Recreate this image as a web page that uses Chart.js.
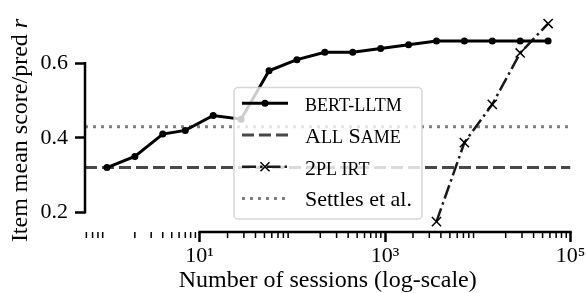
<!DOCTYPE html>
<html lang="en">
<head>
<meta charset="UTF-8">
<title>Item mean score vs. number of sessions</title>
<script src="https://cdnjs.cloudflare.com/ajax/libs/Chart.js/4.4.1/chart.umd.min.js"></script>
<style>
  html, body { margin: 0; padding: 0; background: #fff; }
  #wrap { width: 586px; height: 293px; }
</style>
</head>
<body>
<div id="wrap"><canvas id="sessionChart" width="586" height="293"></canvas></div>
<script>
// sessions (x) and scores (y)
const sessions = [1, 2, 4, 7, 14, 28, 56, 112, 224, 448, 896, 1792, 3584, 7168, 14336, 28672, 57344];
const bertLltm = [0.32, 0.35, 0.41, 0.42, 0.46, 0.45, 0.58, 0.61, 0.63, 0.63, 0.64, 0.65, 0.66, 0.66, 0.66, 0.66, 0.66];
const irtSessions = [3584, 7168, 14336, 28672, 57344];
const irt2pl = [0.175, 0.387, 0.49, 0.628, 0.707];
const allSame = 0.32;
const settles = 0.43;

// axis limits and ticks
const xMin = 0.58, xMax = 100000;
const yMin = 0.147, yMax = 0.738;
const xMajorTicks = [10, 1000, 100000];
const xTickLabels = ['10\u00b9', '10\u00b3', '10\u2075'];
const yTicks = [0.2, 0.4, 0.6];
const yTickLabels = ['0.2', '0.4', '0.6'];

const serif = "'Liberation Serif', 'Times New Roman', serif";

const styles = {
    bert: { color: '#000', width: 3, dash: [] },
    same: { color: '#484848', width: 3, dash: [12, 5] },
    irt: { color: '#1a1a1a', width: 2.5, dash: [14, 4, 2.5, 4] },
    settles: { color: '#7f7f7f', width: 3, dash: [3, 5] }
};

// legend entries; each label is split in [text, smallCaps] parts
const legendItems = [
    { key: 'bert', marker: 'dot', parts: [['bert-lltm', true]] },
    { key: 'same', marker: null, parts: [['A', false], ['ll', true], [' S', false], ['ame', true]] },
    { key: 'irt', marker: 'x', parts: [['2', false], ['pl irt', true]] },
    { key: 'settles', marker: null, parts: [['Settles et al.', false]] }
];

function drawParts(ctx, parts, x, y, size) {
    let cx = x;
    parts.forEach(([t, small]) => {
        const txt = small ? t.toUpperCase() : t;
        ctx.font = (small ? size * 0.82 : size) + 'px ' + serif;
        ctx.fillText(txt, cx, y);
        cx += ctx.measureText(txt).width;
    });
}

function drawLegend(chart) {
    const ctx = chart.ctx;
    const bx = 234, by = 87.5, bw = 188, bh = 131.5;
    ctx.save();
    ctx.beginPath();
    ctx.roundRect(bx, by, bw, bh, 4);
    ctx.fillStyle = 'rgba(255,255,255,0.8)';
    ctx.fill();
    ctx.lineWidth = 1.5;
    ctx.strokeStyle = 'rgba(204,204,204,0.8)';
    ctx.stroke();

    legendItems.forEach((item, i) => {
        const st = styles[item.key];
        const y = 103.3 + i * 31.7;
        ctx.beginPath();
        ctx.setLineDash(st.dash);
        ctx.lineWidth = st.width;
        ctx.strokeStyle = st.color;
        ctx.moveTo(242, y);
        ctx.lineTo(288, y);
        ctx.stroke();
        ctx.setLineDash([]);
        if (item.marker === 'dot') {
            ctx.beginPath();
            ctx.arc(265, y, 3.5, 0, Math.PI * 2);
            ctx.fillStyle = '#000';
            ctx.fill();
        } else if (item.marker === 'x') {
            ctx.beginPath();
            ctx.lineWidth = 1.5;
            ctx.strokeStyle = '#000';
            ctx.moveTo(260.5, y - 4.5); ctx.lineTo(269.5, y + 4.5);
            ctx.moveTo(260.5, y + 4.5); ctx.lineTo(269.5, y - 4.5);
            ctx.stroke();
        }
        ctx.fillStyle = '#000';
        ctx.textBaseline = 'alphabetic';
        ctx.textAlign = 'left';
        drawParts(ctx, item.parts, 305, y + 8, 22);
    });
    ctx.restore();
}

function drawAxes(chart) {
    const ctx = chart.ctx;
    const xs = chart.scales.x, ys = chart.scales.y;
    const left = chart.chartArea.left, bottom = chart.chartArea.bottom;
    ctx.save();
    ctx.strokeStyle = '#000';
    ctx.lineCap = 'square';
    ctx.lineWidth = 2.5;
    // trimmed spines
    ctx.beginPath();
    ctx.moveTo(left, ys.getPixelForValue(yTicks[yTicks.length - 1]));
    ctx.lineTo(left, ys.getPixelForValue(yTicks[0]));
    ctx.moveTo(xs.getPixelForValue(xMajorTicks[0]), bottom);
    ctx.lineTo(xs.getPixelForValue(xMajorTicks[xMajorTicks.length - 1]), bottom);
    ctx.stroke();
    // minor log ticks
    ctx.lineCap = 'butt';
    ctx.lineWidth = 1.5;
    ctx.beginPath();
    for (let e = -1; e <= 4; e++) {
        for (let s = 2; s <= 9; s++) {
            const v = s * Math.pow(10, e);
            if (v < xMin || v > xMax) continue;
            const px = xs.getPixelForValue(v);
            ctx.moveTo(px, bottom);
            ctx.lineTo(px, bottom + 6);
        }
    }
    ctx.stroke();
    // y title with italic r
    ctx.translate(27, 130.5);
    ctx.rotate(-Math.PI / 2);
    ctx.fillStyle = '#000';
    ctx.textBaseline = 'alphabetic';
    ctx.textAlign = 'left';
    const main = 'Item mean score/pred ';
    ctx.font = '24px ' + serif;
    const w1 = ctx.measureText(main).width;
    ctx.font = 'italic 24px ' + serif;
    const w2 = ctx.measureText('r').width;
    const start = -(w1 + w2) / 2;
    ctx.font = '24px ' + serif;
    ctx.fillText(main, start, 0);
    ctx.font = 'italic 24px ' + serif;
    ctx.fillText('r', start + w1, 0);
    ctx.restore();
}

const axesPlugin = {
    id: 'trimmedAxes',
    afterDatasetsDraw(chart) { drawLegend(chart); },
    afterDraw(chart) { drawAxes(chart); }
};

const ctx = document.getElementById('sessionChart').getContext('2d');
new Chart(ctx, {
    type: 'line',
    data: {
        datasets: [
            {
                label: 'BERT-LLTM',
                data: sessions.map((x, i) => ({ x: x, y: bertLltm[i] })),
                borderColor: styles.bert.color,
                borderWidth: styles.bert.width,
                pointRadius: 3.5,
                pointBackgroundColor: '#000',
                pointBorderWidth: 0,
                tension: 0
            },
            {
                label: 'All Same',
                data: [{ x: xMin, y: allSame }, { x: xMax, y: allSame }],
                borderColor: styles.same.color,
                borderWidth: styles.same.width,
                borderDash: styles.same.dash,
                pointRadius: 0
            },
            {
                label: '2PL IRT',
                data: irtSessions.map((x, i) => ({ x: x, y: irt2pl[i] })),
                borderColor: styles.irt.color,
                borderWidth: styles.irt.width,
                borderDash: styles.irt.dash,
                pointStyle: 'crossRot',
                pointRadius: 6.5,
                pointBorderWidth: 1.5,
                pointBorderColor: '#000',
                tension: 0
            },
            {
                label: 'Settles et al.',
                data: [{ x: xMin, y: settles }, { x: xMax, y: settles }],
                borderColor: styles.settles.color,
                borderWidth: styles.settles.width,
                borderDash: styles.settles.dash,
                pointRadius: 0
            }
        ]
    },
    options: {
        responsive: false,
        animation: false,
        devicePixelRatio: 1,
        layout: { padding: { top: 12, right: 15.5, left: 0, bottom: 0 } },
        plugins: {
            legend: { display: false },
            tooltip: { enabled: false }
        },
        scales: {
            x: {
                type: 'logarithmic',
                min: xMin,
                max: xMax,
                afterBuildTicks: (scale) => {
                    scale.ticks = xMajorTicks.map(v => ({ value: v }));
                },
                afterFit: (scale) => {
                    scale.height = 61;
                    scale.paddingLeft = 0;
                    scale.paddingRight = 0;
                },
                ticks: {
                    autoSkip: false,
                    maxRotation: 0,
                    padding: 1,
                    color: '#000',
                    font: { family: serif, size: 22 },
                    callback: (value) => xTickLabels[xMajorTicks.indexOf(value)]
                },
                grid: {
                    drawOnChartArea: false,
                    drawTicks: true,
                    tickLength: 10,
                    tickWidth: 2.5,
                    tickColor: '#000'
                },
                border: { display: false },
                title: {
                    display: true,
                    text: 'Number of sessions (log-scale)',
                    color: '#000',
                    font: { family: serif, size: 24, lineHeight: 1 },
                    padding: 0
                }
            },
            y: {
                min: yMin,
                max: yMax,
                afterBuildTicks: (scale) => {
                    scale.ticks = yTicks.map(v => ({ value: v }));
                },
                afterFit: (scale) => {
                    scale.width = 85;
                    scale.paddingTop = 0;
                    scale.paddingBottom = 0;
                },
                ticks: {
                    padding: 7,
                    color: '#000',
                    font: { family: serif, size: 22 },
                    callback: (value) => yTickLabels[yTicks.indexOf(value)]
                },
                grid: {
                    drawOnChartArea: false,
                    drawTicks: true,
                    tickLength: 10,
                    tickWidth: 2.5,
                    tickColor: '#000'
                },
                border: { display: false }
            }
        }
    },
    plugins: [axesPlugin]
});
</script>
</body>
</html>
